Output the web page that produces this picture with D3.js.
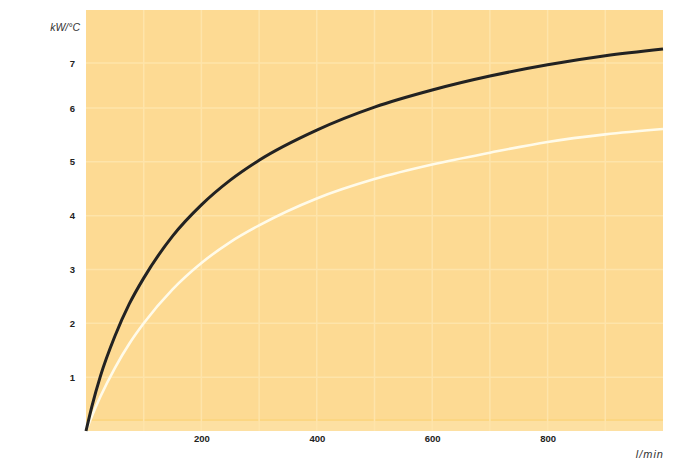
<!DOCTYPE html>
<html><head><meta charset="utf-8">
<script src="https://cdn.jsdelivr.net/npm/d3@7"></script>
<style>body{margin:0;background:#fff}svg{display:block}</style>
</head><body>
<svg id="c" width="673" height="463"></svg>
<script>
const flow = [0, 10, 25, 50, 75, 100, 150, 200, 250, 300, 400, 500, 600, 700, 800, 900, 1000];
const seriesDark = [0, 0.45, 1.02, 1.76, 2.36, 2.84, 3.62, 4.20, 4.66, 5.03, 5.59, 6.02, 6.40, 6.71, 6.96, 7.16, 7.31];
const seriesLight = [0, 0.27, 0.64, 1.17, 1.62, 2.00, 2.63, 3.12, 3.51, 3.82, 4.32, 4.68, 4.95, 5.17, 5.37, 5.51, 5.61];
const xTicks = [200, 400, 600, 800];
const xGrid = [100, 200, 300, 400, 500, 600, 700, 800, 900];
const yTicks = [1, 2, 3, 4, 5, 6, 7];
const yLabel = "kW/°C";
const xLabel = "l/min";

const svg = d3.select("#c");
const L = 86, R = 663, T = 10, B = 431;
const x = d3.scaleLinear().domain([0, 1000]).range([L, R]);
const y = d3.scaleLinear().domain([0, 6, 7]).range([B, 108, 63]);

svg.append("rect").attr("x", L).attr("y", T).attr("width", R - L).attr("height", B - T).attr("fill", "#FDDA93");
svg.append("rect").attr("x", L).attr("y", 421).attr("width", R - L).attr("height", B - 421).attr("fill", "#FDE0A2");
svg.append("line").attr("x1", L).attr("x2", R).attr("y1", 420).attr("y2", 420).attr("stroke", "#FBD47C").attr("stroke-width", 1.5);

const g = svg.append("g");
g.selectAll(".vg").data(xGrid).join("line")
  .attr("x1", d => x(d)).attr("x2", d => x(d)).attr("y1", T).attr("y2", B)
  .attr("stroke", "#FEE4AA").attr("stroke-width", 1.5);
g.selectAll(".hg").data(yTicks).join("line")
  .attr("x1", L).attr("x2", R).attr("y1", d => y(d)).attr("y2", d => y(d))
  .attr("stroke", "#FEE4AA").attr("stroke-width", 1.5);

const line = (vals) => d3.line().curve(d3.curveMonotoneX)
  .x((d, i) => x(flow[i])).y(d => y(d))(vals);

svg.append("path").attr("d", line(seriesLight)).attr("fill", "none")
  .attr("stroke", "#FFFBEA").attr("stroke-width", 2.6);
svg.append("path").attr("d", line(seriesDark)).attr("fill", "none")
  .attr("stroke", "#222222").attr("stroke-width", 3);

// axes
const yAxis = d3.axisLeft(y).tickValues(yTicks).tickSize(0).tickPadding(0).tickFormat(d3.format("d"));
const ya = svg.append("g").attr("transform", `translate(${75},0)`).call(yAxis);
ya.select(".domain").remove();
ya.selectAll("text").attr("font-family", "Liberation Sans, Arial, sans-serif")
  .attr("font-weight", "bold").attr("font-size", 9.5).attr("fill", "#222").attr("text-anchor", "end");

const xAxis = d3.axisBottom(x).tickValues(xTicks).tickSize(0).tickPadding(0).tickFormat(d3.format("d"));
const xa = svg.append("g").attr("transform", `translate(0,${435})`).call(xAxis);
xa.select(".domain").remove();
xa.selectAll("text").attr("font-family", "Liberation Sans, Arial, sans-serif")
  .attr("font-weight", "bold").attr("font-size", 9.5).attr("fill", "#222");

svg.append("text").attr("x", 80).attr("y", 31).attr("text-anchor", "end")
  .attr("font-family", "Liberation Sans, Arial, sans-serif").attr("font-style", "italic")
  .attr("font-size", 10.5).attr("fill", "#333").text(yLabel);
svg.append("text").attr("x", 664).attr("y", 458).attr("text-anchor", "end")
  .attr("font-family", "Liberation Sans, Arial, sans-serif").attr("font-style", "italic")
  .attr("font-size", 11).attr("letter-spacing", 1).attr("fill", "#333").text(xLabel);
</script>
</body></html>
